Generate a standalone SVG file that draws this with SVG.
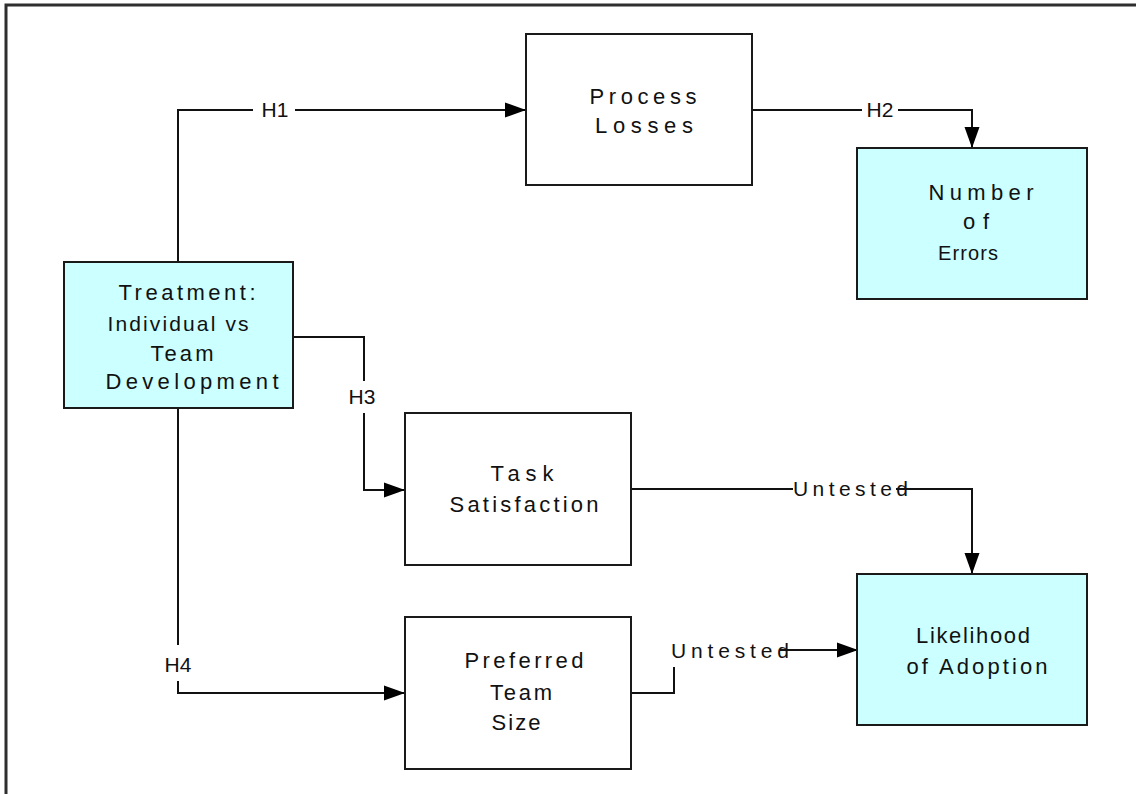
<svg xmlns="http://www.w3.org/2000/svg" width="1136" height="794" viewBox="0 0 1136 794">
  <style>
    .box{stroke:#1a1a1a;stroke-width:2}
    .hi{fill:#ccffff}
    .pl{fill:#ffffff}
    text{font-family:"Liberation Sans",Arial,sans-serif;font-size:22px;fill:#111;text-anchor:middle}
    .lbl{font-size:21px}
    .conn{fill:none;stroke:#111;stroke-width:2}
  </style>
  <defs>
    <marker id="arr" markerUnits="userSpaceOnUse" markerWidth="22" markerHeight="16" refX="21" refY="8" orient="auto" viewBox="0 0 22 16">
      <path d="M0,0.5 L21,8 L0,15.5 Z" fill="#000"/>
    </marker>
  </defs>
  <rect x="0" y="0" width="1136" height="794" fill="#ffffff"/>
  <path d="M6,794 V5 H1136" fill="none" stroke="#2e2e2e" stroke-width="3"/>

  <g id="connectors">
    <path class="conn" d="M178,262 V110 H253"/>
    <path class="conn" d="M295,110 H526" marker-end="url(#arr)"/>
    <text class="lbl" x="275" y="117">H1</text>

    <path class="conn" d="M752,110 H862"/>
    <path class="conn" d="M898,110 H972 V148" marker-end="url(#arr)"/>
    <text class="lbl" x="880" y="117">H2</text>

    <path class="conn" d="M293,337 H364 V381"/>
    <path class="conn" d="M364,413 V490 H405" marker-end="url(#arr)"/>
    <text class="lbl" x="362" y="404">H3</text>

    <path class="conn" d="M631,489 H793"/>
    <path class="conn" d="M896,489 H972 V574" marker-end="url(#arr)"/>
    <text class="lbl" x="850.5" y="496" textLength="115" lengthAdjust="spacing">Untested</text>

    <path class="conn" d="M178,408 V645"/>
    <path class="conn" d="M178,681 V693 H405" marker-end="url(#arr)"/>
    <text class="lbl" x="178" y="672">H4</text>

    <path class="conn" d="M631,693 H674 V667"/>
    <path class="conn" d="M779,650 H858" marker-end="url(#arr)"/>
    <text class="lbl" x="730" y="658" textLength="118" lengthAdjust="spacing">Untested</text>
  </g>

  <g id="process-losses">
    <rect class="box pl" x="526" y="34" width="226" height="151"/>
    <text x="643" y="104" textLength="107" lengthAdjust="spacing">Process</text>
    <text x="644" y="133" textLength="98" lengthAdjust="spacing">Losses</text>
  </g>

  <g id="number-of-errors">
    <rect class="box hi" x="857" y="148" width="230" height="151"/>
    <text x="981" y="200" textLength="105" lengthAdjust="spacing">Number</text>
    <text x="976" y="229" textLength="26" lengthAdjust="spacing">of</text>
    <text x="968" y="260" style="font-size:20px" textLength="60" lengthAdjust="spacing">Errors</text>
  </g>

  <g id="treatment">
    <rect class="box hi" x="64" y="262" width="229" height="146"/>
    <text x="187" y="300" textLength="137" lengthAdjust="spacing">Treatment:</text>
    <text x="178" y="331" style="font-size:21px" textLength="141" lengthAdjust="spacing">Individual vs</text>
    <text x="182" y="361" textLength="63" lengthAdjust="spacing">Team</text>
    <text x="192" y="389" textLength="173" lengthAdjust="spacing">Development</text>
  </g>

  <g id="task-satisfaction">
    <rect class="box pl" x="405" y="413" width="226" height="152"/>
    <text x="522" y="481" textLength="63" lengthAdjust="spacing">Task</text>
    <text x="524" y="512" textLength="149" lengthAdjust="spacing">Satisfaction</text>
  </g>

  <g id="preferred-team-size">
    <rect class="box pl" x="405" y="617" width="226" height="152"/>
    <text x="524" y="668" textLength="119" lengthAdjust="spacing">Preferred</text>
    <text x="521" y="700" textLength="62" lengthAdjust="spacing">Team</text>
    <text x="516" y="730" textLength="49" lengthAdjust="spacing">Size</text>
  </g>

  <g id="likelihood-of-adoption">
    <rect class="box hi" x="857" y="574" width="230" height="151"/>
    <text x="973" y="643" textLength="114" lengthAdjust="spacing">Likelihood</text>
    <text x="977" y="674" textLength="141" lengthAdjust="spacing">of Adoption</text>
  </g>
</svg>
